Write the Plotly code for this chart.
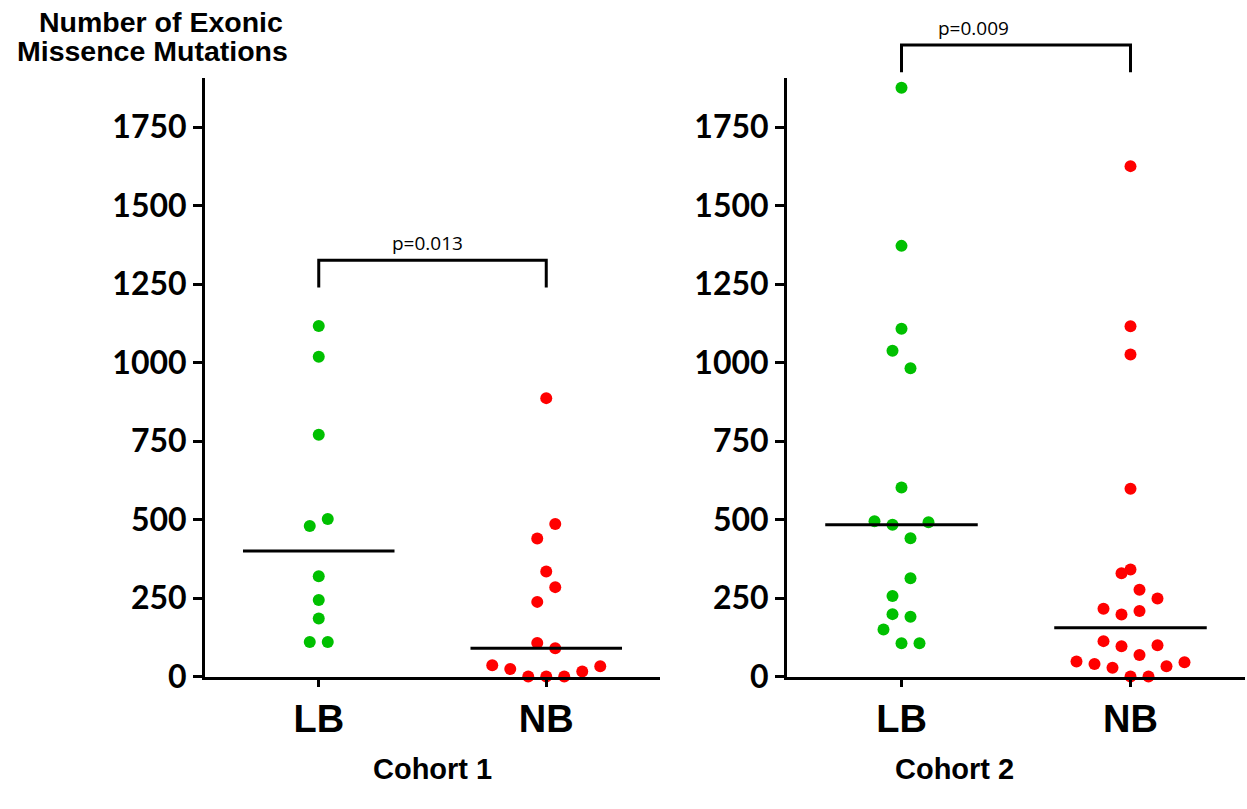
import numpy as np
import plotly.graph_objects as go

# ---------------- data ----------------
groups = ["LB", "NB"]
cohort_names = ["Cohort 1", "Cohort 2"]

cohort1_lb = [1117, 1019, 770, 502, 480, 320, 244, 185, 110, 110]
cohort1_nb = [887, 486, 440, 335, 285, 238, 107, 90, 36, 33, 24, 16, 0, 0, 0]
cohort2_lb = [1876, 1372, 1108, 1038, 982, 602, 495, 492, 484, 441, 313, 257,
              199, 191, 150, 106, 106]
cohort2_nb = [1626, 1116, 1026, 598, 341, 329, 277, 249, 216, 209, 198, 113,
              100, 97, 69, 48, 46, 40, 33, 28, 0, 0]

p_values = ["p=0.013", "p=0.009"]
y_tick_values = [0, 250, 500, 750, 1000, 1250, 1500, 1750]
y_title_lines = ["Number of Exonic", "Missence Mutations"]

# ---------------- layout / style ----------------
W, H = 1247, 809
Y_MAX = 1906
X_RANGE = [-0.5, 1.5]
dom_px_x = [(205, 660), (787, 1245)]   # left/right edges of each panel in px
dom_px_y = (80, 692)                     # top/bottom of panels in px
bracket_top = [1326, 2012]               # bracket levels (data units)
bracket_drop = 87
GREEN = "rgb(0,192,0)"
RED = "rgb(255,0,0)"
MARKER_PX = 12
SLOT_PX = 18
ROW_PX = 18.5
MEDIAN_HALF = 0.333

px_per_y = (dom_px_y[1] - dom_px_y[0]) / Y_MAX


def swarm_offsets(values, px_per_x):
    vals = np.asarray(values, dtype=float)
    order = np.argsort(vals, kind="stable")
    rows, cur = [], []
    for i in order:
        if cur and (vals[i] - vals[cur[0]]) * px_per_y > ROW_PX:
            rows.append(cur)
            cur = []
        cur.append(i)
    if cur:
        rows.append(cur)
    offs = np.zeros(len(vals))
    for r_idx, row in enumerate(rows, start=1):
        n = len(row)
        slots = []
        if n % 2:
            slots = [0]
            k = 1
            while len(slots) < n:
                slots += [k, -k]
                k += 1
        else:
            s = 1 if r_idx % 2 == 0 else -1
            k = 0.5
            while len(slots) < n:
                slots += [s * k, -s * k]
                k += 1
        for j, i in enumerate(row):
            offs[i] = slots[j] * SLOT_PX / px_per_x
    return offs


def to_paper_x(panel, xv):
    x0, x1 = dom_px_x[panel]
    px = x0 + (xv - X_RANGE[0]) / (X_RANGE[1] - X_RANGE[0]) * (x1 - x0)
    return px / W


def to_paper_y(yv):
    px = dom_px_y[1] - yv * px_per_y
    return 1 - px / H


fig = go.Figure()
cohorts = [(cohort1_lb, cohort1_nb), (cohort2_lb, cohort2_nb)]
colors = [GREEN, RED]

for p, (lb, nb) in enumerate(cohorts):
    xa = "x" if p == 0 else "x2"
    ya = "y" if p == 0 else "y2"
    px_per_x = (dom_px_x[p][1] - dom_px_x[p][0]) / (X_RANGE[1] - X_RANGE[0])
    for g, vals in enumerate([lb, nb]):
        offs = swarm_offsets(vals, px_per_x)
        fig.add_trace(go.Scatter(
            x=g + offs, y=vals, mode="markers", xaxis=xa, yaxis=ya,
            marker=dict(size=MARKER_PX, color=colors[g], line=dict(width=0)),
            cliponaxis=False, showlegend=False, hoverinfo="y"))
        med = float(np.median(vals))
        fig.add_trace(go.Scatter(
            x=[g - MEDIAN_HALF, g + MEDIAN_HALF], y=[med, med], mode="lines",
            xaxis=xa, yaxis=ya, line=dict(color="black", width=3),
            showlegend=False, hoverinfo="skip"))

shapes = []
annotations = []
for p in range(2):
    xl = to_paper_x(p, 0)
    xr = to_paper_x(p, 1)
    yt = to_paper_y(bracket_top[p])
    yb = to_paper_y(bracket_top[p] - bracket_drop)
    shapes.append(dict(type="path", xref="paper", yref="paper",
                       path=f"M {xl} {yb} L {xl} {yt} L {xr} {yt} L {xr} {yb}",
                       line=dict(color="black", width=3)))
    annotations.append(dict(x=to_paper_x(p, 0.5) - 5 / W, y=yt, xref="paper", yref="paper",
                            text=p_values[p], showarrow=False, yanchor="bottom",
                            yshift=2, font=dict(family="Open Sans", size=19, color="black")))
    annotations.append(dict(x=(dom_px_x[p][0] + dom_px_x[p][1]) / 2 / W,
                            y=1 - 787 / H, xref="paper", yref="paper",
                            text=cohort_names[p], showarrow=False, yanchor="middle",
                            font=dict(family="Liberation Sans, Arial", size=29,
                                      color="black", weight="bold")))

title_pos = [(161, 23), (152, 52)]
for line, (cx, cy) in zip(y_title_lines, title_pos):
    annotations.append(dict(x=cx / W, y=1 - cy / H, xref="paper", yref="paper",
                            text=line, showarrow=False, xanchor="center", yanchor="middle",
                            font=dict(family="Liberation Sans, Arial", size=28.5,
                                      color="black", weight="bold")))

xaxis_common = dict(range=X_RANGE, tickmode="array", tickvals=[0, 1], ticktext=groups,
                    showline=True, linecolor="black", linewidth=3, ticks="outside",
                    ticklen=7, tickwidth=3, tickcolor="black", showgrid=False,
                    zeroline=False, fixedrange=True,
                    tickfont=dict(family="Liberation Sans, Arial", size=38,
                                  color="black", weight="bold"))
yaxis_common = dict(range=[0, Y_MAX], tickmode="array", tickvals=y_tick_values,
                    showline=True, linecolor="black", linewidth=3, ticks="outside",
                    ticklen=9, tickwidth=3, tickcolor="black", showgrid=False,
                    zeroline=False, fixedrange=True,
                    domain=[1 - dom_px_y[1] / H, 1 - dom_px_y[0] / H],
                    tickfont=dict(family="Lato", size=32, color="black", weight="bold"))

fig.update_layout(
    width=W, height=H, margin=dict(l=0, r=0, t=0, b=0),
    paper_bgcolor="white", plot_bgcolor="white",
    xaxis=dict(**xaxis_common, domain=[dom_px_x[0][0] / W, dom_px_x[0][1] / W], anchor="y"),
    xaxis2=dict(**xaxis_common, domain=[dom_px_x[1][0] / W, dom_px_x[1][1] / W], anchor="y2"),
    yaxis=dict(**yaxis_common, anchor="x"),
    yaxis2=dict(**yaxis_common, anchor="x2"),
    shapes=shapes, annotations=annotations, showlegend=False,
)

fig.write_html("out.html")
